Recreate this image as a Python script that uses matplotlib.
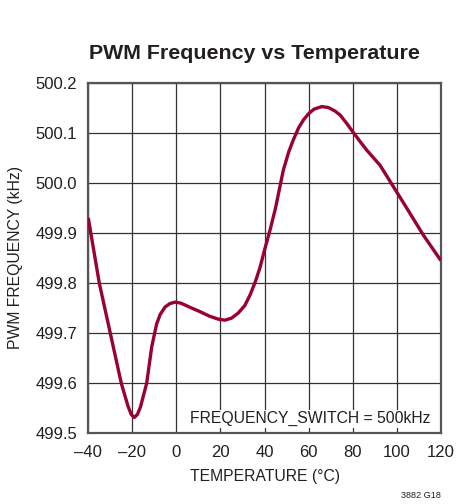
import matplotlib
matplotlib.use("Agg")
import matplotlib.pyplot as plt

# values
temp_c = [-40, -35, -30, -25, -22, -20.5, -19.1, -17.7, -16.3, -15, -13.5,
          -11.2, -9, -7.4, -5.2, -3, -0.6, 2, 4, 7, 10.7, 15, 19, 22, 25, 28,
          31, 33.5, 36, 38, 40, 42.5, 45, 48.5, 51, 53, 55.5, 57.6, 60, 62.5,
          66, 69, 72, 74.3, 77, 80, 83.4, 86.4, 92.4, 98.5, 104.6, 112, 120]
freq_khz = [499.930, 499.800, 499.700, 499.600, 499.555, 499.538, 499.532,
            499.538, 499.553, 499.575, 499.600, 499.673, 499.718, 499.737,
            499.752, 499.759, 499.762, 499.760, 499.756, 499.750, 499.743,
            499.734, 499.728, 499.726, 499.730, 499.740, 499.755, 499.777,
            499.805, 499.832, 499.866, 499.906, 499.950, 500.025, 500.062,
            500.085, 500.110, 500.125, 500.138, 500.147, 500.152, 500.150,
            500.143, 500.135, 500.120, 500.102, 500.082, 500.065, 500.035,
            499.992, 499.949, 499.896, 499.845]
x_ticks = [-40, -20, 0, 20, 40, 60, 80, 100, 120]
y_ticks = [499.5, 499.6, 499.7, 499.8, 499.9, 500.0, 500.1, 500.2]

plt.rcParams["font.family"] = ["Liberation Sans", "DejaVu Sans"]
txt = "#231f20"

fig = plt.figure(figsize=(4.67, 5.04), dpi=100)
ax = fig.add_axes([0.189, 0.1399, 0.755, 0.6964])

ax.plot(temp_c, freq_khz, color="#990033", lw=2.4, solid_capstyle="butt",
        solid_joinstyle="round", zorder=3)

ax.set_xlim(-40, 120)
ax.set_ylim(499.5, 500.2)
ax.set_xticks(x_ticks)
ax.set_yticks(y_ticks)
ax.set_xticklabels([str(t).replace("-", "\u2013") for t in x_ticks])
ax.set_yticklabels(["%.1f" % v for v in y_ticks])
ax.tick_params(length=0, labelsize=12, colors=txt, pad=8)
ax.grid(True, color="#333333", lw=0.9)
for s in ax.spines.values():
    s.set_color("#555555")
    s.set_linewidth(1.6)

ax.set_xlabel("TEMPERATURE (\u00b0C)", fontsize=11.3, color=txt, labelpad=7)
ax.yaxis.set_label_coords(-0.185, 0.53)
ax.set_ylabel("PWM FREQUENCY (kHz)", fontsize=11.3, color=txt)

ax.text(0.970, 0.03, "FREQUENCY_SWITCH = 500kHz", transform=ax.transAxes,
        ha="right", va="baseline", fontsize=11.3, color=txt,
        bbox=dict(facecolor="white", edgecolor="none", pad=1))

fig.text(0.544, 0.883, "PWM Frequency vs Temperature", ha="center",
         va="baseline", fontsize=15.4, fontweight="bold", color=txt)
fig.text(0.944, 0.016, "3882 G18", ha="right", va="center", fontsize=6.6,
         color=txt)

fig.savefig("out.png", dpi=100)
